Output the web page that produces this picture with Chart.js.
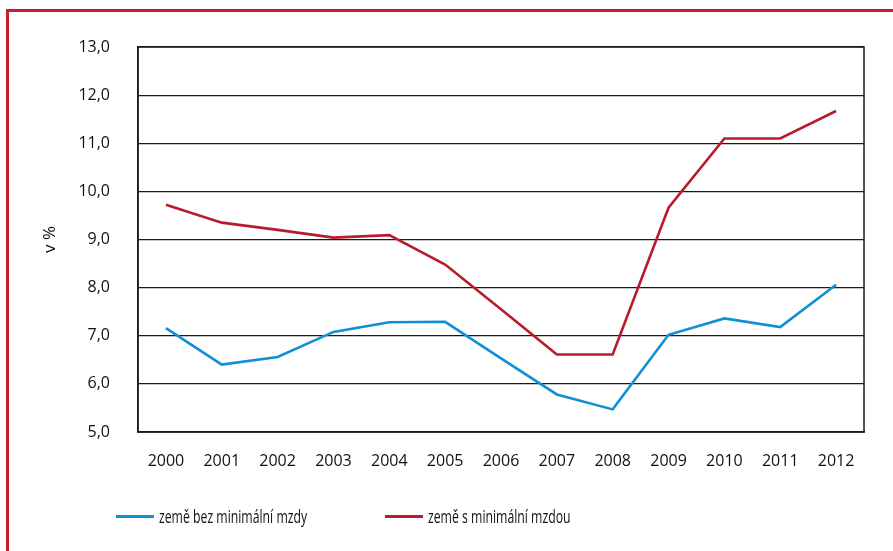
<!DOCTYPE html>
<html lang="cs">
<head>
<meta charset="utf-8">
<title>Podíl – země s minimální mzdou a bez ní</title>
<script src="https://cdn.jsdelivr.net/npm/chart.js@4.4.1/dist/chart.umd.min.js"></script>
<style>
  html, body { margin: 0; padding: 0; background: #fff; }
  body { width: 893px; height: 551px; position: relative; overflow: hidden; font-family: "Open Sans", sans-serif; }
  #frame { position: absolute; left: 6px; top: 9px; width: 900px; height: 600px; border-left: 3px solid #c41f30; border-top: 3px solid #c41f30; }
  #wrap { position: absolute; left: 0; top: 0; width: 893px; height: 551px; }
  .legend-item { position: absolute; top: 505px; height: 22px; display: flex; align-items: center; font-size: 17.5px; color: #111; white-space: nowrap; }
  .legend-item .swatch { width: 38px; height: 3px; margin-right: 5px; flex: none; }
  .legend-item .name { display: inline-block; transform: scaleX(0.70); transform-origin: left center; }
</style>
</head>
<body>
<div id="frame"></div>
<div id="wrap"><canvas id="chart" width="893" height="551"></canvas></div>
<div id="legend"></div>

<script>
const years = ["2000", "2001", "2002", "2003", "2004", "2005", "2006", "2007", "2008", "2009", "2010", "2011", "2012"];
const bezMinimalniMzdy = [7.16, 6.40, 6.56, 7.08, 7.28, 7.29, 6.53, 5.78, 5.47, 7.02, 7.36, 7.18, 8.06];
const sMinimalniMzdou = [9.72, 9.35, 9.20, 9.04, 9.09, 8.48, 7.55, 6.61, 6.61, 9.66, 11.10, 11.10, 11.67];
const seriesNames = ["země bez minimální mzdy", "země s minimální mzdou"];
const seriesColors = ["#0f8fd5", "#b81c2c"];
const yMin = 5;
const yMax = 13;

function formatCZ(value) {
  return Number(value).toFixed(1).replace(".", ",");
}

// plot frame: right edge of the chart area (top/left/bottom come from grid and axes)
const frameBox = {
  id: "frameBox",
  afterDraw(chart) {
    const { ctx, chartArea } = chart;
    ctx.save();
    ctx.strokeStyle = "#1a1a1a";
    ctx.lineWidth = 1.5;
    ctx.strokeRect(chartArea.left, chartArea.top, chartArea.right - chartArea.left, chartArea.bottom - chartArea.top);
    ctx.restore();
  }
};

function renderLegend() {
  const target = document.getElementById("legend");
  const lefts = [116, 385];
  target.innerHTML = seriesNames.map((name, i) => `
    <div class="legend-item" style="left:${lefts[i]}px">
      <span class="swatch" style="background:${seriesColors[i]}"></span>
      <span class="name">${name}</span>
    </div>
  `).join("");
}

function renderChart() {
  const ctx = document.getElementById("chart");
  new Chart(ctx, {
    type: "line",
    data: {
      labels: years,
      datasets: [
        {
          label: seriesNames[0],
          data: bezMinimalniMzdy,
          borderColor: seriesColors[0],
          backgroundColor: seriesColors[0],
          borderWidth: 2.6,
          pointRadius: 0,
          tension: 0,
          fill: false
        },
        {
          label: seriesNames[1],
          data: sMinimalniMzdou,
          borderColor: seriesColors[1],
          backgroundColor: seriesColors[1],
          borderWidth: 2.6,
          pointRadius: 0,
          tension: 0,
          fill: false
        }
      ]
    },
    options: {
      responsive: false,
      animation: false,
      layout: { padding: { left: 0, top: 47, right: 29, bottom: 79 } },
      plugins: {
        legend: { display: false },
        tooltip: { enabled: false }
      },
      scales: {
        x: {
          offset: true,
          grid: { display: false, drawTicks: false },
          border: { display: true, color: "#1a1a1a", width: 1.5 },
          ticks: {
            color: "#111",
            padding: 20,
            maxRotation: 0,
            autoSkip: false,
            font: { family: "Open Sans", size: 16 }
          },
          afterFit(scale) { scale.height = 40; }
        },
        y: {
          min: yMin,
          max: yMax,
          grid: { color: "#1a1a1a", lineWidth: 1.2, drawTicks: false },
          border: { display: true, color: "#1a1a1a", width: 1.5 },
          ticks: {
            stepSize: 1,
            color: "#111",
            padding: 28,
            font: { family: "Open Sans", size: 16 },
            callback: (value) => formatCZ(value)
          },
          title: {
            display: true,
            text: "v %",
            color: "#111",
            padding: { top: 40, bottom: 0 },
            font: { family: "Open Sans", size: 17 }
          },
          afterFit(scale) { scale.width = 138; }
        }
      }
    },
    plugins: [frameBox]
  });
}

document.addEventListener("DOMContentLoaded", () => {
  renderLegend();
  renderChart();
});
</script>
</body>
</html>
